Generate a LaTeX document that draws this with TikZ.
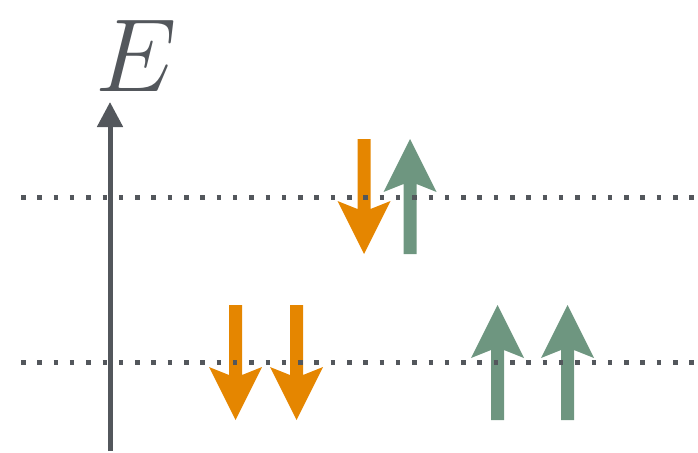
\documentclass[tikz,border=0pt]{standalone}
\usetikzlibrary{arrows.meta}
\definecolor{axisgray}{RGB}{83,87,92}
\definecolor{spinorange}{RGB}{229,134,0}
\definecolor{spingreen}{RGB}{110,150,128}
\tikzset{
  levelline/.style={axisgray, line width=4.5pt, dash pattern=on 4.5pt off 11.8pt},
  axisline/.style={axisgray, line width=5pt, -{Triangle[length=25pt,width=25pt]}},
  spinup/.pic={\fill[spingreen] (-6.5,0) -- (-6.5,-70) -- (-26.5,-62) -- (0,-115)
                 -- (26.5,-62) -- (6.5,-70) -- (6.5,0) -- cycle;},
  spindown/.pic={\fill[spinorange] (-6.5,0) -- (-6.5,70) -- (-26.5,62) -- (0,115)
                 -- (26.5,62) -- (6.5,70) -- (6.5,0) -- cycle;},
}
\begin{document}
\begin{tikzpicture}[x=1pt,y=-1pt]
\useasboundingbox (0,0) rectangle (698,452);
% energy axis
\coordinate (axbot) at (110,451);
\coordinate (axtop) at (110,102);
\draw[axisline] (axbot) -- (axtop);
\node[axisgray, inner sep=0, anchor=base, scale=4.18, font=\Huge] (elabel) at (136,91) {$E$};
% spins on the upper level
\pic at (364,139) {spindown};
\pic at (410,254) {spinup};
% spins on the lower level
\pic at (235.5,305) {spindown};
\pic at (296.5,305) {spindown};
\pic at (497.5,420) {spinup};
\pic at (567.5,420) {spinup};
% energy levels
\coordinate (upL) at (21,197.7);
\coordinate (upR) at (698,197.7);
\coordinate (loL) at (21,362.5);
\coordinate (loR) at (698,362.5);
\draw[levelline] (upL) -- (upR);
\draw[levelline] (loL) -- (loR);
\end{tikzpicture}
\end{document}
